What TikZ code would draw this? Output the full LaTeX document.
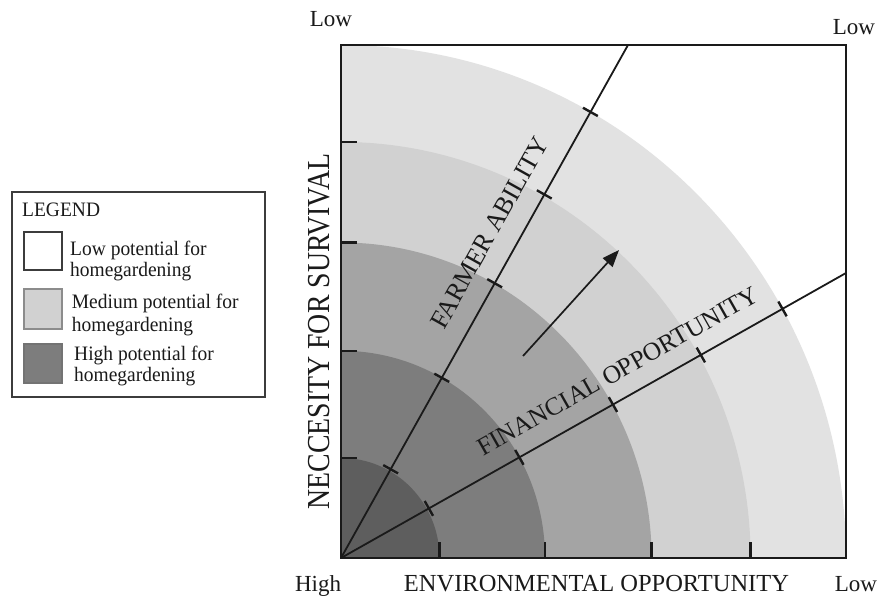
\documentclass[tikz,border=0pt]{standalone}
\usepackage{fontspec}
\setmainfont{Liberation Serif}
\newfontfamily\narrowserif[FakeStretch=0.87]{Liberation Serif}
\newfontfamily\slimserif[FakeStretch=0.95]{Liberation Serif}
\usetikzlibrary{arrows.meta,calc}
\definecolor{cA}{HTML}{5E5E5E}
\definecolor{cB}{HTML}{7D7D7D}
\definecolor{cC}{HTML}{A4A4A4}
\definecolor{cD}{HTML}{D1D1D1}
\definecolor{cE}{HTML}{E2E2E2}
\definecolor{ink}{HTML}{1A1A1A}
\begin{document}
\begin{tikzpicture}[x=1pt,y=1pt,
  frameline/.style={line width=2.6pt, draw=ink},
  rayline/.style={line width=1.8pt, draw=ink},
  tickmark/.style={line width=2.4pt, draw=ink},
  axislabel/.style={inner sep=0pt, anchor=base, text=ink, font=\fontsize{23}{27}\selectfont},
  slopedlabel/.style={sloped, anchor=south, text=ink},
  legendtext/.style={inner sep=0pt, anchor=base west, text=ink, font=\slimserif\fontsize{20.5}{24}\selectfont},
  swatch/.style={line width=1.3pt}
]
\useasboundingbox (0,0) rectangle (880,598);
\fill[white] (0,0) rectangle (880,598);

% key points
\coordinate (O) at (341,40);
\coordinate (TR) at (846,553);
\coordinate (Fend) at (628,553);
\coordinate (Gend) at (846,325);
\coordinate (FR) at (590.4,486.1);
\coordinate (GR) at (782.5,289.1);

% concentric bands
\foreach \f/\c in {1/cE, 0.811/cD, 0.615/cC, 0.404/cB, 0.195/cA}
  \fill[\c] (O) -- ++({505*\f},0) arc[start angle=0, end angle=90, x radius={505*\f}, y radius={513*\f}] -- cycle;

% rays
\draw[rayline] (O) -- (Fend);
\draw[rayline] (O) -- (Gend);
\foreach \f in {0.199,0.404,0.616,0.815,1.0}{
  \coordinate (p) at ($(O)!\f!(FR)$);
  \draw[tickmark] ($(p)!8.5pt!90:(O)$) -- ($(p)!8.5pt!-90:(O)$);
  \coordinate (q) at ($(O)!\f!(GR)$);
  \draw[tickmark] ($(q)!8.5pt!90:(O)$) -- ($(q)!8.5pt!-90:(O)$);
}

% axis ticks
\foreach \f in {0.195,0.404,0.615,0.811}{
  \draw[tickmark] ($(O)+({505*\f},0)$) -- ++(0,16);
  \draw[tickmark] ($(O)+(0,{513*\f})$) -- ++(16,0);
}

% frame
\draw[frameline] (O) rectangle (TR);

% arrow
\coordinate (A1) at (523,242);
\coordinate (A2) at (619,348);
\draw[line width=1.7pt, draw=ink, -{Triangle[length=17pt,width=13pt]}] (A1) -- (A2);

% axis labels
\node[axislabel] (lowTL) at (331,571.3) {Low};
\node[axislabel] (lowTR) at (854,563) {Low};
\node[axislabel] (high) at (318,7) {High};
\node[axislabel, font=\fontsize{24.5}{28}\selectfont] (env) at (596.5,7) {ENVIRONMENTAL OPPORTUNITY};
\node[axislabel] (lowBR) at (856,7) {Low};
\node[inner sep=0pt, rotate=90, text=ink, font=\narrowserif\fontsize{32}{36}\selectfont] (nec) at (319.2,266.5) {NECCESITY FOR SURVIVAL};

% sloped labels
\path (O) -- (Fend) node[slopedlabel, pos=0.606, inner sep=20.5pt, font=\fontsize{26}{30}\selectfont] (farmer) {FARMER ABILITY};
\path (O) -- (Gend) node[slopedlabel, pos=0.574, inner sep=18pt, font=\fontsize{25.4}{29}\selectfont] (fin) {FINANCIAL OPPORTUNITY};

% legend
\draw[line width=1.5pt, draw=ink!85] (12,201) rectangle (265,406);
\node[legendtext] (legtitle) at (22,381.3) {LEGEND};
\draw[swatch, draw=ink!85, fill=white] (24,328) rectangle (62,366);
\draw[swatch, draw=black!45, fill=cD] (24,269) rectangle (62,309);
\draw[swatch, draw=black!55, fill=cB] (24,215) rectangle (62,254);
\node[legendtext] (l1a) at (70,343) {Low potential for};
\node[legendtext] (l1b) at (70,321.3) {homegardening};
\node[legendtext] (l2a) at (71.7,289.7) {Medium potential for};
\node[legendtext] (l2b) at (71.7,266.3) {homegardening};
\node[legendtext] (l3a) at (74,238) {High potential for};
\node[legendtext] (l3b) at (74,216.3) {homegardening};
\end{tikzpicture}
\end{document}
